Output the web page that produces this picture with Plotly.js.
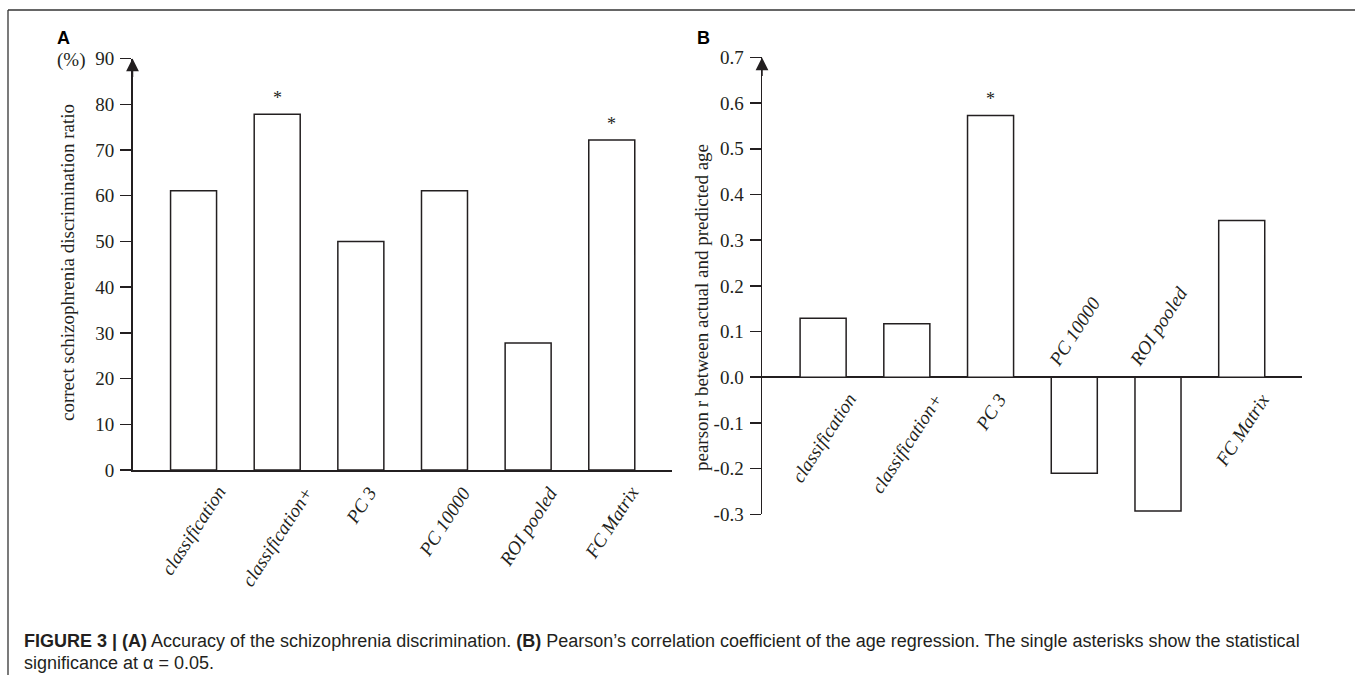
<!DOCTYPE html>
<html>
<head>
<meta charset="utf-8">
<script src="https://cdn.plot.ly/plotly-3.0.1.min.js"></script>
<style>
  html, body { margin: 0; padding: 0; background: #ffffff; }
  #chart { width: 1355px; height: 675px; }
</style>
</head>
<body>
<div id="chart"></div>
<script>
// ---------- data ----------
const categories = ['classification', 'classification+', 'PC 3', 'PC 10000', 'ROI pooled', 'FC Matrix'];
const accuracy = [61.1, 77.8, 50.0, 61.1, 27.8, 72.2];
const accuracySignificant = [false, true, false, false, false, true];
const pearsonR = [0.129, 0.117, 0.573, -0.210, -0.293, 0.343];
const pearsonSignificant = [false, false, true, false, false, false];
const yTickValsA = [0, 10, 20, 30, 40, 50, 60, 70, 80, 90];
const yTickTextA = ['0', '10', '20', '30', '40', '50', '60', '70', '80', '90'];
const yTickValsB = [-0.3, -0.2, -0.1, 0.0, 0.1, 0.2, 0.3, 0.4, 0.5, 0.6, 0.7];
const yTickTextB = ['-0.3', '-0.2', '-0.1', '0.0', '0.1', '0.2', '0.3', '0.4', '0.5', '0.6', '0.7'];
const yTitleA = 'correct schizophrenia discrimination ratio';
const yTitleB = 'pearson r between actual and predicted age';
const captionLine1 = '<b>FIGURE 3 | (A)</b> Accuracy of the schizophrenia discrimination. <b>(B)</b> Pearson\u2019s correlation coefficient of the age regression. The single asterisks show the statistical';
const captionLine2 = 'significance at \u03b1 = 0.05.';

// ---------- styling ----------
const W = 1355, H = 675;
const INK = '#231f20';
const SERIF = 'Liberation Serif, Times New Roman, serif';
const SANS = 'Liberation Sans, Arial, sans-serif';
const px = x => x / W;
const py = y => 1 - y / H;
const xRange = [-0.73, 5.72];

function barTrace(vals, xa, ya) {
  return {
    type: 'bar', x: categories, y: vals, xaxis: xa, yaxis: ya,
    width: 0.55,
    marker: { color: '#ffffff', line: { color: INK, width: 1.5 } },
    hoverinfo: 'x+y', showlegend: false
  };
}

const yAxisCommon = {
  showgrid: false, ticks: 'outside', ticklen: 11, tickwidth: 1.5, tickcolor: INK,
  showline: true, linecolor: INK, linewidth: 1.5,
  tickfont: { family: SERIF, size: 19, color: INK },
  tickmode: 'array', ticklabelstandoff: 2, fixedrange: true
};

const annotations = [];
const labelFont = { family: SERIF, size: 19, color: INK };
const TA = -57;

// x category labels (annotations at category positions)
categories.forEach((c, i) => {
  annotations.push({ xref: 'x', yref: 'y', x: c, y: 0, text: '<i>' + c + '</i>', showarrow: false,
    textangle: TA, xanchor: 'center', yanchor: 'top', yshift: -10, font: labelFont });
  const neg = pearsonR[i] < 0;
  annotations.push({ xref: 'x2', yref: 'y2', x: c, y: 0, text: '<i>' + c + '</i>', showarrow: false,
    textangle: TA, xanchor: 'center', yanchor: neg ? 'bottom' : 'top', yshift: neg ? 5 : -10, font: labelFont });
  if (accuracySignificant[i]) {
    annotations.push({ xref: 'x', yref: 'y', x: c, y: accuracy[i], text: '*', showarrow: false,
      xanchor: 'center', yanchor: 'middle', yshift: 16, font: { family: SERIF, size: 18, color: INK } });
  }
  if (pearsonSignificant[i]) {
    annotations.push({ xref: 'x2', yref: 'y2', x: c, y: pearsonR[i], text: '*', showarrow: false,
      xanchor: 'center', yanchor: 'middle', yshift: 16, font: { family: SERIF, size: 18, color: INK } });
  }
});

// axis arrows (heads at the top of each y axis)
annotations.push({ xref: 'x', yref: 'y', x: xRange[0], y: 90, ax: 0, ay: 20, showarrow: true,
  arrowhead: 2, arrowsize: 1.7, arrowwidth: 1.5, arrowcolor: INK, text: '' });
annotations.push({ xref: 'x2', yref: 'y2', x: xRange[0], y: 0.7, ax: 0, ay: 20, showarrow: true,
  arrowhead: 2, arrowsize: 1.7, arrowwidth: 1.5, arrowcolor: INK, text: '' });

// axis titles
annotations.push({ xref: 'paper', yref: 'paper', x: px(68), y: py(263), text: yTitleA, textangle: -90,
  showarrow: false, xanchor: 'center', yanchor: 'middle', font: { family: SERIF, size: 19, color: INK } });
annotations.push({ xref: 'paper', yref: 'paper', x: px(701), y: py(308), text: yTitleB, textangle: -90,
  showarrow: false, xanchor: 'center', yanchor: 'middle', font: { family: SERIF, size: 19, color: INK } });
annotations.push({ xref: 'paper', yref: 'paper', x: px(71), y: py(60), text: '(%)',
  showarrow: false, xanchor: 'center', yanchor: 'middle', font: { family: SERIF, size: 19, color: INK } });
// panel letters
annotations.push({ xref: 'paper', yref: 'paper', x: px(55), y: py(26), text: '<b>A</b>',
  showarrow: false, xanchor: 'left', yanchor: 'top', font: { family: SANS, size: 18, color: '#000' } });
annotations.push({ xref: 'paper', yref: 'paper', x: px(695), y: py(26), text: '<b>B</b>',
  showarrow: false, xanchor: 'left', yanchor: 'top', font: { family: SANS, size: 18, color: '#000' } });
// caption
annotations.push({ xref: 'paper', yref: 'paper', x: px(22), y: py(629), text: captionLine1, align: 'left',
  showarrow: false, xanchor: 'left', yanchor: 'top', font: { family: SANS, size: 18, color: '#231f20' } });
annotations.push({ xref: 'paper', yref: 'paper', x: px(22), y: py(651), text: captionLine2, align: 'left',
  showarrow: false, xanchor: 'left', yanchor: 'top', font: { family: SANS, size: 18, color: '#231f20' } });

const shapes = [
  { type: 'line', xref: 'paper', yref: 'paper', x0: px(8), x1: 1, y0: py(10), y1: py(10), line: { color: '#333', width: 1.3 } },
  { type: 'line', xref: 'paper', yref: 'paper', x0: px(8), x1: px(8), y0: py(10), y1: 0, line: { color: '#333', width: 1.3 } }
];

const layout = {
  width: W, height: H, autosize: false,
  margin: { l: 0, r: 0, t: 0, b: 0 },
  paper_bgcolor: '#ffffff', plot_bgcolor: 'rgba(0,0,0,0)',
  showlegend: false,
  xaxis: { domain: [px(132.5), px(672)], range: xRange, type: 'category', categoryorder: 'array', categoryarray: categories,
    showline: true, linecolor: INK, linewidth: 1.5, ticks: '', showticklabels: false, showgrid: false, zeroline: false, fixedrange: true, anchor: 'y' },
  yaxis: Object.assign({}, yAxisCommon, { domain: [py(470), py(58.6)], range: [0, 90], tickvals: yTickValsA, ticktext: yTickTextA, zeroline: false, anchor: 'x' }),
  xaxis2: { domain: [px(762), px(1302)], range: xRange, type: 'category', categoryorder: 'array', categoryarray: categories,
    showline: false, ticks: '', showticklabels: false, showgrid: false, zeroline: false, fixedrange: true, anchor: 'y2' },
  yaxis2: Object.assign({}, yAxisCommon, { domain: [py(514.3), py(57.4)], range: [-0.3, 0.7], tickvals: yTickValsB, ticktext: yTickTextB,
    zeroline: true, zerolinecolor: INK, zerolinewidth: 1.5, anchor: 'x2' }),
  annotations: annotations,
  shapes: shapes,
  bargap: 0.45
};

Plotly.newPlot('chart', [barTrace(accuracy, 'x', 'y'), barTrace(pearsonR, 'x2', 'y2')], layout, { displayModeBar: false, staticPlot: true });
</script>
</body>
</html>
